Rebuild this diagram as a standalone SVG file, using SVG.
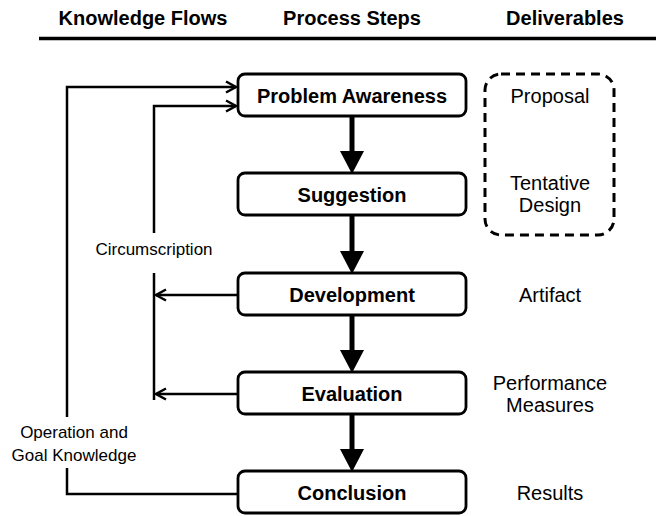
<svg xmlns="http://www.w3.org/2000/svg" width="656" height="516" viewBox="0 0 656 516">
  <defs>
    <style>
      .hdr { font-family: "Liberation Sans", Arial, sans-serif; font-size: 20px; font-weight: bold; fill: #000; text-anchor: middle; }
      .step rect { fill: #fff; stroke: #000; stroke-width: 2.8; }
      .step text { font-family: "Liberation Sans", Arial, sans-serif; font-size: 20px; font-weight: bold; fill: #000; text-anchor: middle; }
      .del { font-family: "Liberation Sans", Arial, sans-serif; font-size: 20px; fill: #000; text-anchor: middle; }
      .lbl { font-family: "Liberation Sans", Arial, sans-serif; font-size: 17px; fill: #000; text-anchor: middle; }
      .flow { fill: none; stroke: #000; stroke-width: 2.5; }
      .main { fill: none; stroke: #000; stroke-width: 5; }
    </style>
    <marker id="chev" markerUnits="userSpaceOnUse" markerWidth="14" markerHeight="14" refX="10" refY="5.5" orient="auto" overflow="visible">
      <path d="M0,0 L10,5.5 L0,11" fill="none" stroke="#000" stroke-width="2.5"/>
    </marker>
    <marker id="tri" markerUnits="userSpaceOnUse" markerWidth="24" markerHeight="26" refX="0" refY="12" orient="auto" overflow="visible">
      <path d="M0,0 L23,12 L0,24 Z" fill="#000"/>
    </marker>
  </defs>

  <rect width="656" height="516" fill="#fff"/>

  <!-- column headers -->
  <g id="headers">
    <text class="hdr" x="143" y="25">Knowledge Flows</text>
    <text class="hdr" x="352" y="25">Process Steps</text>
    <text class="hdr" x="565" y="25">Deliverables</text>
    <line x1="39" y1="38.5" x2="656" y2="38.5" stroke="#000" stroke-width="3.5"/>
  </g>

  <!-- connectors -->
  <g id="connectors">
    <!-- main process flow -->
    <line class="main" x1="352" y1="116" x2="352" y2="151" marker-end="url(#tri)"/>
    <line class="main" x1="352" y1="215" x2="352" y2="251" marker-end="url(#tri)"/>
    <line class="main" x1="352" y1="315" x2="352" y2="350" marker-end="url(#tri)"/>
    <line class="main" x1="352" y1="414" x2="352" y2="449" marker-end="url(#tri)"/>

    <!-- operation and goal knowledge loop -->
    <polyline class="flow" points="238,494 67,494 67,468"/>
    <polyline class="flow" points="67,417 67,87 236,87" marker-end="url(#chev)"/>

    <!-- circumscription loop -->
    <polyline class="flow" points="154,233 154,106 236,106" marker-end="url(#chev)"/>
    <line class="flow" x1="154" y1="273" x2="154" y2="400"/>
    <line class="flow" x1="238" y1="295" x2="156" y2="295" marker-end="url(#chev)"/>
    <line class="flow" x1="238" y1="394" x2="156" y2="394" marker-end="url(#chev)"/>
  </g>

  <!-- flow labels -->
  <g id="flow-labels">
    <text class="lbl" x="154" y="255">Circumscription</text>
    <text class="lbl" x="74" y="438">Operation and</text>
    <text class="lbl" x="74" y="461">Goal Knowledge</text>
  </g>

  <!-- process steps -->
  <g id="problem-awareness" class="step">
    <rect x="238" y="74" width="228" height="42" rx="7"/>
    <text x="352" y="103">Problem Awareness</text>
  </g>
  <g id="suggestion" class="step">
    <rect x="238" y="173" width="228" height="42" rx="7"/>
    <text x="352" y="202">Suggestion</text>
  </g>
  <g id="development" class="step">
    <rect x="238" y="273" width="228" height="42" rx="7"/>
    <text x="352" y="302">Development</text>
  </g>
  <g id="evaluation" class="step">
    <rect x="238" y="372" width="228" height="42" rx="7"/>
    <text x="352" y="401">Evaluation</text>
  </g>
  <g id="conclusion" class="step">
    <rect x="238" y="471" width="228" height="42" rx="7"/>
    <text x="352" y="500">Conclusion</text>
  </g>

  <!-- deliverables -->
  <g id="early-deliverables">
    <rect x="485" y="74" width="129" height="161" rx="16" fill="none" stroke="#000" stroke-width="3" stroke-dasharray="9 6"/>
    <text class="del" x="550" y="103">Proposal</text>
    <text class="del" x="550" y="190">Tentative</text>
    <text class="del" x="550" y="212">Design</text>
  </g>
  <g id="artifact">
    <text class="del" x="550" y="302">Artifact</text>
  </g>
  <g id="performance-measures">
    <text class="del" x="550" y="390">Performance</text>
    <text class="del" x="550" y="412">Measures</text>
  </g>
  <g id="results">
    <text class="del" x="550" y="500">Results</text>
  </g>
</svg>
